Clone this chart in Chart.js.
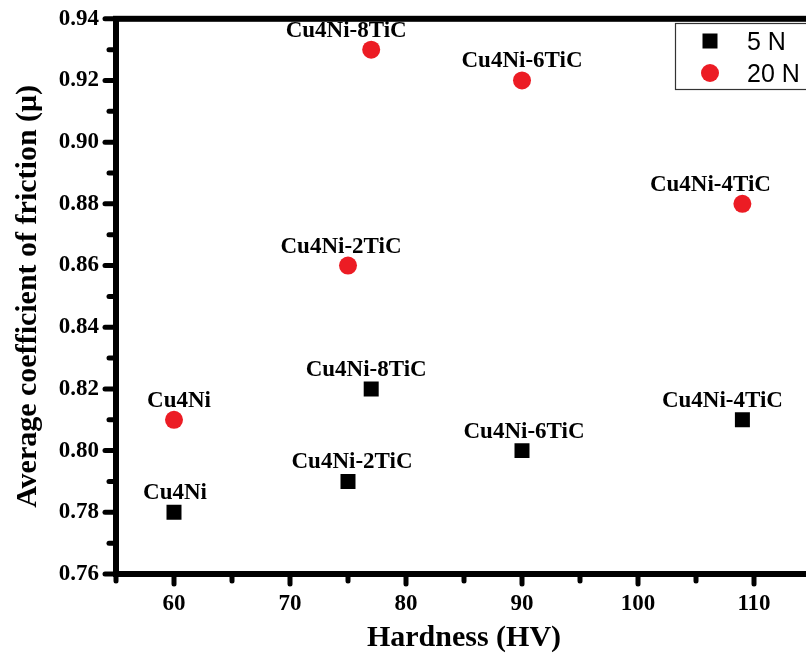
<!DOCTYPE html>
<html>
<head>
<meta charset="utf-8">
<script src="https://cdn.jsdelivr.net/npm/chart.js@4/dist/chart.umd.min.js"></script>
<style>
  html, body { margin: 0; padding: 0; background: #fff; overflow: hidden; }
  #wrap { width: 806px; height: 658px; overflow: hidden; position: relative; }
  canvas { display: block; }
</style>
</head>
<body>
<div id="wrap"><canvas id="chart" width="830" height="658"></canvas></div>
<script>
// Samples and measured values
const samples = ['Cu4Ni', 'Cu4Ni-2TiC', 'Cu4Ni-8TiC', 'Cu4Ni-6TiC', 'Cu4Ni-4TiC'];
const hardness = [60, 75, 77, 90, 109];
const friction5N = [0.78, 0.79, 0.82, 0.80, 0.81];
const friction20N = [0.81, 0.86, 0.93, 0.92, 0.88];
const seriesNames = ['5 N', '20 N'];

// Labelled axis ticks
const xTickLabels = [60, 70, 80, 90, 100, 110];
const yTickLabels = [0.76, 0.78, 0.80, 0.82, 0.84, 0.86, 0.88, 0.90, 0.92, 0.94];

// Horizontal nudges for the sample annotations (per series, per sample)
const annotationShift = [
  [1, 4, -5, 2, -20],
  [5, -7, -25, 0, -32]
];

const SERIF = '"Liberation Serif", "Times New Roman", serif';
const SANS = '"Liberation Sans", Arial, sans-serif';
const RED = '#ec1c24';

const toPoints = (xs, ys) => xs.map((x, i) => ({ x, y: ys[i] }));

// Sample names written above each marker
const annotations = {
  id: 'annotations',
  afterDatasetsDraw(chart) {
    const ctx = chart.ctx;
    ctx.save();
    ctx.font = 'bold 23px ' + SERIF;
    ctx.fillStyle = '#000';
    ctx.textAlign = 'center';
    ctx.textBaseline = 'alphabetic';
    chart.data.datasets.forEach((ds, d) => {
      chart.getDatasetMeta(d).data.forEach((el, i) => {
        ctx.fillText(samples[i], el.x + annotationShift[d][i], el.y - 13);
      });
    });
    ctx.restore();
  }
};

// Closed frame plus rounded tick marks (long at labelled ticks, short otherwise)
const frameAndTicks = {
  id: 'frameAndTicks',
  afterDraw(chart) {
    const ctx = chart.ctx;
    const a = chart.chartArea;
    ctx.save();
    ctx.strokeStyle = '#000';
    ctx.lineCap = 'round';
    ctx.lineWidth = 5;
    const xs = chart.scales.x, ys = chart.scales.y;
    xs.ticks.forEach(t => {
      const px = xs.getPixelForValue(t.value);
      const major = xTickLabels.some(v => Math.abs(v - t.value) < 1e-6);
      ctx.beginPath();
      ctx.moveTo(px, a.bottom);
      ctx.lineTo(px, a.bottom + (major ? 10 : 7));
      ctx.stroke();
    });
    ys.ticks.forEach(t => {
      const py = ys.getPixelForValue(t.value);
      const major = yTickLabels.some(v => Math.abs(v - t.value) < 1e-6);
      ctx.beginPath();
      ctx.moveTo(a.left, py);
      ctx.lineTo(a.left - (major ? 11 : 7), py);
      ctx.stroke();
    });
    ctx.lineCap = 'butt';
    ctx.lineJoin = 'miter';
    ctx.lineWidth = 6;
    ctx.strokeRect(a.left, a.top, a.right - a.left, a.bottom - a.top);
    ctx.restore();
  }
};

// Boxed legend in the upper-right corner
const boxedLegend = {
  id: 'boxedLegend',
  afterDraw(chart) {
    const ctx = chart.ctx;
    ctx.save();
    ctx.fillStyle = '#fff';
    ctx.fillRect(675.5, 23.5, 160, 66);
    ctx.strokeStyle = '#333';
    ctx.lineWidth = 1.2;
    ctx.strokeRect(675.5, 23.5, 160, 66);
    const rows = [41, 73];
    chart.data.datasets.forEach((ds, d) => {
      const cy = rows[d];
      ctx.fillStyle = ds.backgroundColor;
      if (ds.pointStyle === 'rect') {
        ctx.fillRect(702.5, cy - 7.5, 15, 15);
      } else {
        ctx.beginPath();
        ctx.arc(710, cy, 9, 0, Math.PI * 2);
        ctx.fill();
      }
      ctx.fillStyle = '#000';
      ctx.font = '25px ' + SANS;
      ctx.textAlign = 'left';
      ctx.textBaseline = 'alphabetic';
      ctx.fillText(ds.label, 747, cy + 9);
    });
    ctx.restore();
  }
};

const tickFont = { family: SERIF, weight: 'bold', size: 23 };
const titleFont = { family: SERIF, weight: 'bold', size: 30 };

new Chart(document.getElementById('chart'), {
  type: 'scatter',
  data: {
    datasets: [
      {
        label: seriesNames[0],
        data: toPoints(hardness, friction5N),
        pointStyle: 'rect',
        pointRadius: 10.6,
        pointHoverRadius: 10.6,
        backgroundColor: '#000',
        borderColor: '#000',
        borderWidth: 0
      },
      {
        label: seriesNames[1],
        data: toPoints(hardness, friction20N),
        pointStyle: 'circle',
        pointRadius: 9,
        pointHoverRadius: 9,
        backgroundColor: RED,
        borderColor: RED,
        borderWidth: 0
      }
    ]
  },
  options: {
    responsive: false,
    animation: false,
    events: [],
    layout: { padding: { left: 0, right: 18, top: 16, bottom: 0 } },
    plugins: { legend: { display: false }, tooltip: { enabled: false } },
    scales: {
      x: {
        type: 'linear',
        min: 55,
        max: 115,
        afterFit(scale) { scale.height = 84; },
        afterBuildTicks(scale) {
          const t = [];
          for (let v = 55; v <= 115; v += 5) t.push({ value: v });
          scale.ticks = t;
        },
        ticks: {
          autoSkip: false,
          font: tickFont,
          color: '#000',
          padding: 4,
          maxRotation: 0,
          callback: (v) => xTickLabels.includes(v) ? String(v) : ''
        },
        grid: { drawOnChartArea: false, drawTicks: true, tickLength: 12, tickColor: 'rgba(0,0,0,0)' },
        border: { display: false },
        title: {
          display: true,
          text: 'Hardness (HV)',
          font: titleFont,
          color: '#000',
          padding: { top: 0, bottom: 2 }
        }
      },
      y: {
        type: 'linear',
        min: 0.76,
        max: 0.94,
        afterFit(scale) { scale.width = 116; },
        afterBuildTicks(scale) {
          const t = [];
          for (let k = 76; k <= 94; k++) t.push({ value: k / 100 });
          scale.ticks = t;
        },
        ticks: {
          autoSkip: false,
          font: tickFont,
          color: '#000',
          padding: 5,
          callback: (v) => yTickLabels.some(l => Math.abs(l - v) < 1e-6) ? v.toFixed(2) : ''
        },
        grid: { drawOnChartArea: false, drawTicks: true, tickLength: 12, tickColor: 'rgba(0,0,0,0)' },
        border: { display: false },
        title: {
          display: true,
          text: 'Average coefficient of friction (\u03bc)',
          font: titleFont,
          color: '#000',
          padding: { top: 10, bottom: 0 }
        }
      }
    }
  },
  plugins: [annotations, frameAndTicks, boxedLegend]
});
</script>
</body>
</html>
